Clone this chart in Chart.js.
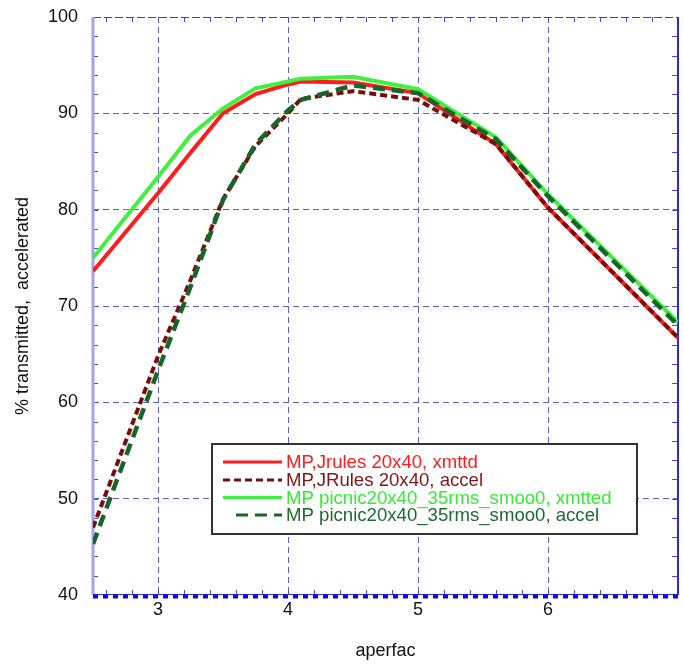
<!DOCTYPE html>
<html>
<head>
<meta charset="utf-8">
<script src="https://cdn.jsdelivr.net/npm/chart.js@4.4.1/dist/chart.umd.min.js"></script>
<style>
  body { margin: 0; background: #fff; }
</style>
</head>
<body>
<canvas id="aperfacChart" width="684" height="666"></canvas>
<script>
// values
const aperfac = [2.5, 3.0, 3.25, 3.5, 3.75, 4.0, 4.1, 4.5, 5.0, 5.6, 6.0, 7.0];
const jrulesXmttd = [73.6, 81.7, 85.9, 90.0, 92.0, 93.0, 93.3, 93.2, 92.1, 86.8, 80.2, 66.7];
const jrulesAccel = [47.0, 64.8, 72.7, 81.1, 86.6, 90.0, 91.5, 92.3, 91.4, 86.8, 80.2, 66.7];
const picnicXmtted = [75.0, 83.4, 87.7, 90.5, 92.6, 93.3, 93.6, 93.8, 92.5, 87.5, 81.6, 68.3];
const picnicAccel = [45.3, 63.3, 72.0, 81.0, 86.8, 90.3, 91.4, 92.9, 92.1, 87.3, 81.4, 68.0];

const seriesLabels = [
  'MP,Jrules 20x40, xmttd',
  'MP,JRules 20x40, accel',
  'MP picnic20x40_35rms_smoo0, xmtted',
  'MP picnic20x40_35rms_smoo0, accel'
];
const xTicks = [3, 4, 5, 6];
const yTicks = [40, 50, 60, 70, 80, 90, 100];

const gridBlue = '#5c5cd4';
const font = 'Liberation Sans';

function toPoints(ys) {
  return aperfac.map((x, i) => ({ x: x, y: ys[i] }));
}

// box, borders and minor ticks like the original plot frame
const framePlugin = {
  id: 'frame',
  beforeDatasetsDraw(chart) {
    const { ctx, chartArea: a, scales } = chart;
    ctx.save();
    // minor ticks
    ctx.strokeStyle = '#4848d8';
    ctx.lineWidth = 1;
    for (let v = 2.6; v < 7.0; v += 0.2) {
      const px = Math.round(scales.x.getPixelForValue(v)) + 0.5;
      ctx.beginPath();
      ctx.moveTo(px, a.bottom); ctx.lineTo(px, a.bottom - 5);
      ctx.moveTo(px, a.top); ctx.lineTo(px, a.top + 5);
      ctx.stroke();
    }
    for (let v = 42; v < 100; v += 2) {
      const py = Math.round(scales.y.getPixelForValue(v)) + 0.5;
      ctx.beginPath();
      ctx.moveTo(a.left, py); ctx.lineTo(a.left + 5, py);
      ctx.moveTo(a.right, py); ctx.lineTo(a.right - 6, py);
      ctx.stroke();
    }
    // top border
    ctx.strokeStyle = '#3a3ad8';
    ctx.setLineDash([8, 3]);
    ctx.beginPath();
    ctx.moveTo(a.left, a.top + 0.5); ctx.lineTo(a.right, a.top + 0.5);
    ctx.stroke();
    // right border
    ctx.setLineDash([]);
    ctx.lineWidth = 2;
    ctx.strokeStyle = '#2a2ae0';
    ctx.beginPath();
    ctx.moveTo(a.right, a.top); ctx.lineTo(a.right, a.bottom);
    ctx.stroke();
    // left border
    ctx.lineWidth = 3;
    ctx.strokeStyle = '#a4a4ec';
    ctx.beginPath();
    ctx.moveTo(a.left, a.top); ctx.lineTo(a.left, a.bottom);
    ctx.stroke();
    // bottom border, thin line with heavy dots underneath
    ctx.lineWidth = 1;
    ctx.strokeStyle = '#3030e0';
    ctx.beginPath();
    ctx.moveTo(a.left, a.bottom - 0.5); ctx.lineTo(a.right, a.bottom - 0.5);
    ctx.stroke();
    ctx.lineWidth = 4;
    ctx.strokeStyle = '#0a0af0';
    ctx.setLineDash([5, 5]);
    ctx.beginPath();
    ctx.moveTo(a.left, a.bottom + 1.5); ctx.lineTo(a.right, a.bottom + 1.5);
    ctx.stroke();
    ctx.restore();
  }
};

// legend box drawn inside the plot
const boxLegendPlugin = {
  id: 'boxLegend',
  afterDatasetsDraw(chart) {
    const { ctx } = chart;
    const rows = [462, 480, 497.5, 515];
    ctx.save();
    ctx.fillStyle = '#fff';
    ctx.fillRect(212, 444, 425, 90);
    ctx.strokeStyle = '#333';
    ctx.lineWidth = 2;
    ctx.strokeRect(212, 444, 425, 90);
    ctx.font = '18.6px "' + font + '"';
    ctx.textBaseline = 'middle';
    chart.data.datasets.forEach((ds, i) => {
      const y = rows[i];
      ctx.strokeStyle = ds.borderColor;
      ctx.lineWidth = 3;
      ctx.setLineDash(ds.borderDash || []);
      ctx.beginPath();
      if (ds.borderDash && ds.borderDash[0] > 10) {
        ctx.moveTo(236, y); ctx.lineTo(282, y);
      } else {
        ctx.moveTo(223, y); ctx.lineTo(282, y);
      }
      ctx.stroke();
      ctx.setLineDash([]);
      ctx.fillStyle = ds.legendText;
      ctx.fillText(ds.label, 286, y + 1);
    });
    ctx.restore();
  }
};

new Chart(document.getElementById('aperfacChart'), {
  type: 'line',
  data: {
    datasets: [
      {
        label: seriesLabels[0],
        data: toPoints(jrulesXmttd),
        borderColor: '#ff1c1c',
        legendText: '#ff1c1c',
        borderWidth: 4,
        order: 4
      },
      {
        label: seriesLabels[1],
        data: toPoints(jrulesAccel),
        borderColor: '#7a0c0c',
        legendText: '#7e1818',
        borderWidth: 4,
        borderDash: [7, 4],
        order: 3
      },
      {
        label: seriesLabels[2],
        data: toPoints(picnicXmtted),
        borderColor: '#3ff03f',
        legendText: '#36ea36',
        borderWidth: 4,
        order: 2
      },
      {
        label: seriesLabels[3],
        data: toPoints(picnicAccel),
        borderColor: '#17652a',
        legendText: '#1f6a30',
        borderWidth: 4.5,
        borderDash: [12, 7],
        order: 1
      }
    ]
  },
  options: {
    responsive: false,
    animation: false,
    layout: { padding: { top: 17, right: 6, left: 0, bottom: 0 } },
    elements: { point: { radius: 0 }, line: { tension: 0 } },
    plugins: {
      legend: { display: false },
      tooltip: { enabled: false }
    },
    scales: {
      x: {
        type: 'linear',
        min: 2.5,
        max: 7.0,
        afterBuildTicks: axis => { axis.ticks = xTicks.map(v => ({ value: v })); },
        afterFit: axis => { axis.height = 71; axis.paddingLeft = 0; axis.paddingRight = 0; },
        ticks: { color: '#111', font: { family: font, size: 18 }, padding: 4 },
        grid: { color: gridBlue, lineWidth: 1, drawTicks: false },
        border: { display: false, dash: [6, 4] },
        title: {
          display: true,
          text: 'aperfac',
          color: '#111',
          font: { family: font, size: 18 },
          padding: { top: 0, bottom: 4 }
        }
      },
      y: {
        min: 40,
        max: 100,
        afterBuildTicks: axis => { axis.ticks = yTicks.map(v => ({ value: v })); },
        afterFit: axis => { axis.width = 93; axis.paddingTop = 0; axis.paddingBottom = 0; },
        ticks: { color: '#111', font: { family: font, size: 18 }, padding: 15 },
        grid: {
          color: c => (c.tick && (c.tick.value === 40 || c.tick.value === 100)) ? 'rgba(0,0,0,0)' : gridBlue,
          lineWidth: 1,
          drawTicks: false
        },
        border: { display: false, dash: [6, 4] },
        title: {
          display: true,
          text: '% transmitted,  accelerated',
          color: '#111',
          font: { family: font, size: 18 },
          padding: { top: 12, bottom: 0 }
        }
      }
    }
  },
  plugins: [framePlugin, boxLegendPlugin]
});
</script>
</body>
</html>
